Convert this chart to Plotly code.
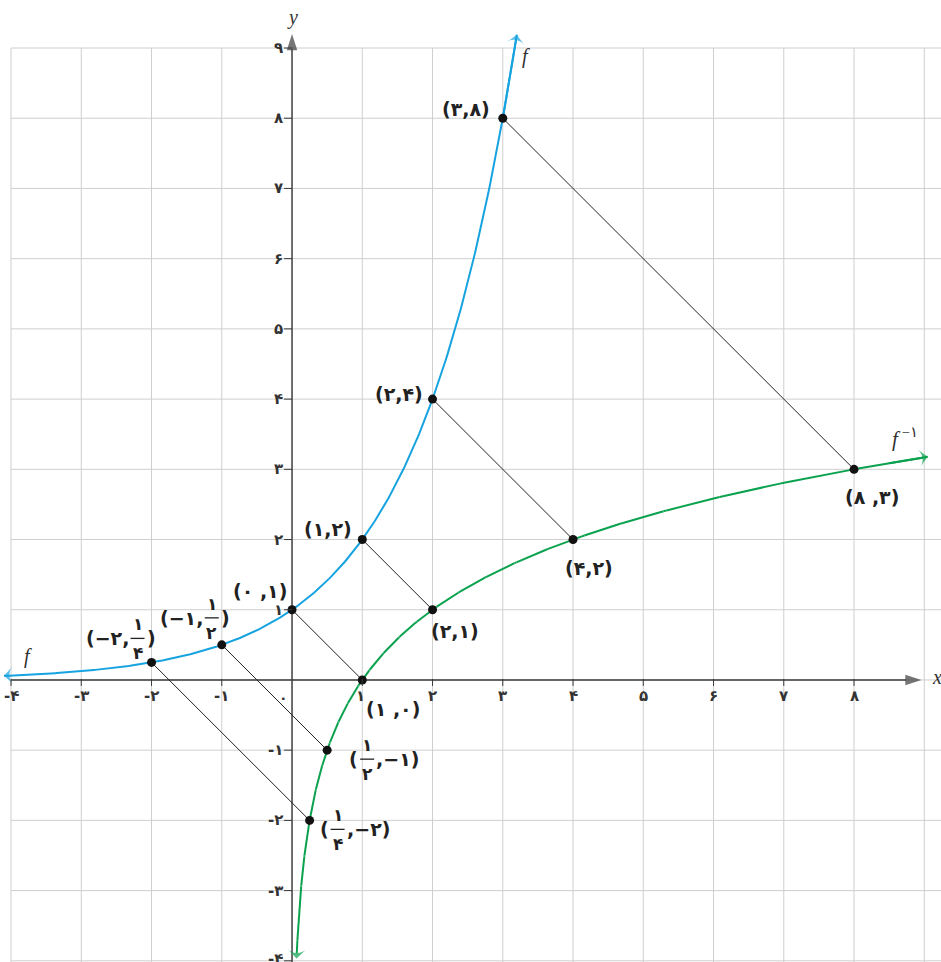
import numpy as np
import plotly.graph_objects as go

BASE = 2

# points of f(x) = 2^x and their mirror images on f^-1
f_x = [-2, -1, 0, 1, 2, 3]
f_y = [0.25, 0.5, 1, 2, 4, 8]
g_x = list(f_y)
g_y = list(f_x)

x_ticks = [-4, -3, -2, -1, 1, 2, 3, 4, 5, 6, 7, 8]
x_tick_text = ["-۴", "-۳", "-۲", "-۱", "۱", "۲", "۳", "۴", "۵", "۶", "۷", "۸"]
y_ticks = [-4, -3, -2, -1, 1, 2, 3, 4, 5, 6, 7, 8, 9]
y_tick_text = ["-۴", "-۳", "-۲", "-۱", "۱", "۲", "۳", "۴", "۵", "۶", "۷", "۸", "۹"]
grid_x = list(range(-4, 10))
grid_y = list(range(-4, 10))

# point labels: plain text
plain_labels = [
    # (x, y, text)
    (3, 8, "(۳,۸)"),
    (2, 4, "(۲,۴)"),
    (1, 2, "(۱,۲)"),
    (0, 1, "(۰ ,۱)"),
    (8, 3, "(۸ ,۳)"),
    (4, 2, "(۴,۲)"),
    (2, 1, "(۲,۱)"),
    (1, 0, "(۱ ,۰)"),
]
# point labels containing a stacked fraction: (x, y, before, numerator, denominator, after)
frac_labels = [
    (-2, 0.25, "(−۲,", "۱", "۴", ")"),
    (-1, 0.5, "(−۱,", "۱", "۲", ")"),
    (0.5, -1, "(", "۱", "۲", ",−۱)"),
    (0.25, -2, "(", "۱", "۴", ",−۲)"),
]

X_RANGE = [-4.157, 9.238]
Y_RANGE = [-4.017, 9.684]

BLUE = "#16a3e0"
GREEN = "#0aa24e"
GRID = "#cfcfcf"
AXIS = "#3a3a3a"
LABEL_FONT = "DejaVu Sans"
SERIF = "Liberation Serif"

fig = go.Figure()

# grid
for gx in grid_x:
    fig.add_shape(type="line", x0=gx, x1=gx, y0=Y_RANGE[0], y1=9,
                  line=dict(color=GRID, width=1), layer="below")
for gy in grid_y:
    fig.add_shape(type="line", x0=-4, x1=X_RANGE[1], y0=gy, y1=gy,
                  line=dict(color=GRID, width=1), layer="below")


def arrow_line(xs, ys, color, width, head, symbol="arrow-wide"):
    """Polyline whose last point carries an arrow head oriented along the line."""
    xs = list(xs)
    ys = list(ys)
    sizes = [0] * (len(xs) - 1) + [head]
    fig.add_trace(go.Scatter(
        x=xs, y=ys, mode="lines+markers",
        line=dict(color=color, width=width),
        marker=dict(symbol=symbol, size=sizes, color=color, angleref="previous",
                    line=dict(width=0)),
        hoverinfo="skip"))


# axes with arrow heads
arrow_line([-4, 8.96], [0, 0], AXIS, 1.4, 17, "arrow")
arrow_line([0, 0], [Y_RANGE[0], 9.2], AXIS, 1.4, 17, "arrow")

# tick marks
for tx in x_ticks:
    fig.add_shape(type="line", xref="x", yref="y", xsizemode="scaled", ysizemode="pixel",
                  x0=tx, x1=tx, yanchor=0, y0=-6, y1=1, line=dict(color=AXIS, width=1))
for ty in y_ticks:
    fig.add_shape(type="line", xref="x", yref="y", xsizemode="pixel", ysizemode="scaled",
                  xanchor=0, x0=-8, x1=0, y0=ty, y1=ty, line=dict(color=AXIS, width=1))

# tick labels
tick_font = dict(family=LABEL_FONT, size=15, color="#333", weight="bold")
for tx, tt in zip(x_ticks, x_tick_text):
    fig.add_annotation(x=tx, y=0, text=tt, showarrow=False, yshift=-16,
                       xshift=-2 if tx == 1 else 0, font=tick_font)
for ty, tt in zip(y_ticks, y_tick_text):
    fig.add_annotation(x=0, y=ty, text=tt, showarrow=False, xshift=-7, xanchor="right",
                       yshift=2 if ty == -4 else 0, font=tick_font)
fig.add_annotation(x=0, y=0, text="۰", showarrow=False, xshift=-9, yshift=-18,
                   font=dict(family=LABEL_FONT, size=14, color="#333", weight="bold"))
fig.add_annotation(x=9.18, y=0.04, text="<i>x</i>", showarrow=False,
                   font=dict(family=SERIF, size=20, color="#333"))
fig.add_annotation(x=0, y=9.43, text="<i>y</i>", showarrow=False,
                   font=dict(family=SERIF, size=20, color="#333"))

# curves f and f^-1 with arrow heads at both ends
f_fn = lambda v: BASE ** v
g_fn = lambda v: np.log(v) / np.log(BASE)

xs_f = np.linspace(3.2, -4.1, 400)          # drawn right to left, head at left end
arrow_line(xs_f, f_fn(xs_f), BLUE, 2, 13)
xs_f_top = np.linspace(3.0, 3.2, 20)         # head at the upper end
arrow_line(xs_f_top, f_fn(xs_f_top), BLUE, 2, 13)

xs_g = np.geomspace(9.05, 0.064, 600)        # head at the lower end
arrow_line(xs_g, g_fn(xs_g), GREEN, 2, 13)
xs_g_right = np.linspace(8.5, 9.05, 20)      # head at the right end
arrow_line(xs_g_right, g_fn(xs_g_right), GREEN, 2, 13)

# segments joining each point with its mirror image
for x1, y1, x2, y2 in zip(f_x, f_y, g_x, g_y):
    fig.add_trace(go.Scatter(x=[x1, x2], y=[y1, y2], mode="lines",
                             line=dict(color="#222", width=1), hoverinfo="skip"))

# points
fig.add_trace(go.Scatter(x=f_x + g_x, y=f_y + g_y, mode="markers",
                         marker=dict(color="#111", size=9), hoverinfo="skip"))

# curve names
fig.add_annotation(x=3.33, y=8.88, text="<i>f</i>", showarrow=False,
                   font=dict(family=SERIF, size=20, color="#333"))
fig.add_annotation(x=-3.76, y=0.33, text="<i>f</i>", showarrow=False,
                   font=dict(family=SERIF, size=20, color="#333"))
fig.add_annotation(x=8.72, y=3.45, text="<i>f</i><sup> −۱</sup>", showarrow=False,
                   font=dict(family=SERIF, size=21, color="#333"))

# point labels
label_font = dict(family=LABEL_FONT, size=19, color="#222", weight="bold")
plain_pos = {
    (3, 8): ("right", -11, 9),
    (2, 4): ("right", -8, 5),
    (1, 2): ("right", -8, 11),
    (0, 1): ("right", -3, 19),
    (8, 3): ("center", 18, -28),
    (4, 2): ("center", 16, -28),
    (2, 1): ("center", 22, -21),
    (1, 0): ("center", 31, -29),
}
for lx, ly, txt in plain_labels:
    anchor, dx, dy = plain_pos[(lx, ly)]
    fig.add_annotation(x=lx, y=ly, text=txt, showarrow=False, xanchor=anchor,
                       xshift=dx, yshift=dy, font=label_font)

frac_pos = {
    (-2, 0.25): (-14, 24),
    (-1, 0.5): (-10, 27),
    (0.5, -1): (40, -9),
    (0.25, -2): (28, -9),
}
small_font = dict(family=LABEL_FONT, size=17, color="#222", weight="bold")
for lx, ly, pre, num, den, post in frac_labels:
    dx, dy = frac_pos[(lx, ly)]
    fig.add_annotation(x=lx, y=ly, text=pre, showarrow=False, xanchor="right",
                       xshift=dx - 7, yshift=dy, font=label_font)
    fig.add_annotation(x=lx, y=ly, text=post, showarrow=False, xanchor="left",
                       xshift=dx + 7, yshift=dy, font=label_font)
    fig.add_annotation(x=lx, y=ly, text=num, showarrow=False,
                       xshift=dx, yshift=dy + 14, font=small_font)
    fig.add_annotation(x=lx, y=ly, text=den, showarrow=False,
                       xshift=dx, yshift=dy - 15, font=small_font)
    fig.add_shape(type="line", xref="x", yref="y", xsizemode="pixel", ysizemode="pixel",
                  xanchor=lx, yanchor=ly, x0=dx - 7, x1=dx + 7, y0=dy, y1=dy,
                  line=dict(color="#222", width=1.3))

fig.update_layout(
    width=941, height=962,
    margin=dict(l=0, r=0, t=0, b=0),
    paper_bgcolor="white", plot_bgcolor="white",
    showlegend=False,
    xaxis=dict(range=X_RANGE, visible=False, fixedrange=True),
    yaxis=dict(range=Y_RANGE, visible=False, fixedrange=True),
)

fig.write_html("out.html")
